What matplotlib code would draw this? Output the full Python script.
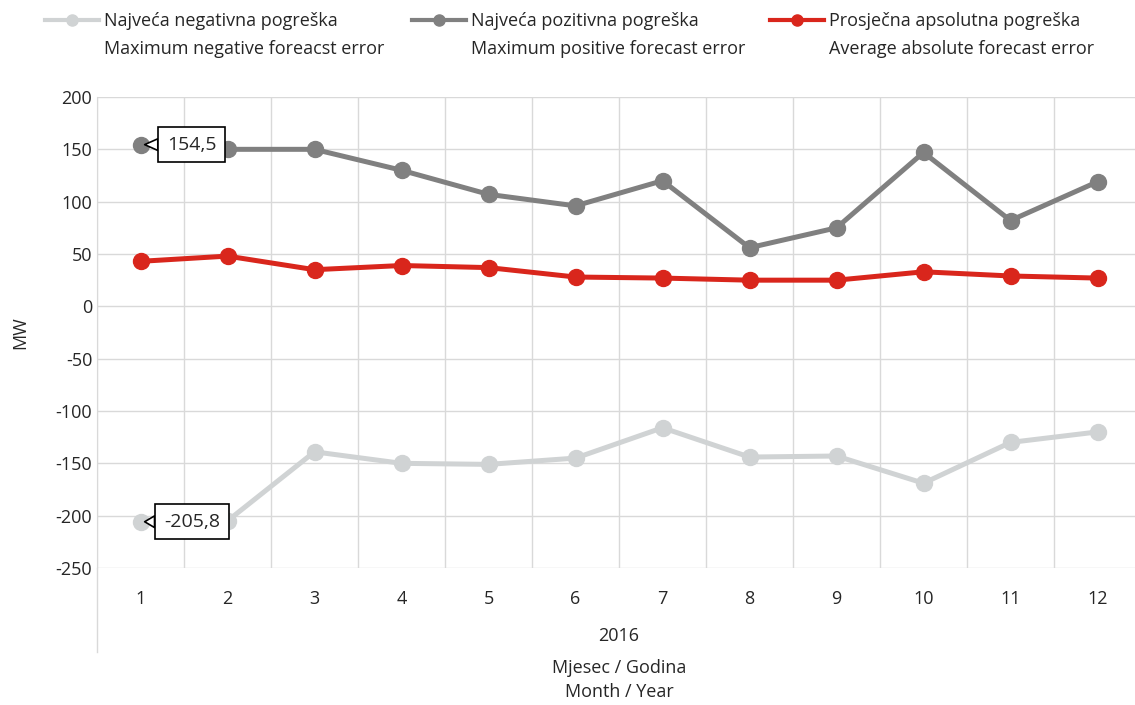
import matplotlib
matplotlib.use("Agg")
import matplotlib.pyplot as plt
from matplotlib.lines import Line2D

plt.rcParams['font.family'] = ['Open Sans', 'DejaVu Sans']
plt.rcParams['axes.unicode_minus'] = False

months = [1, 2, 3, 4, 5, 6, 7, 8, 9, 10, 11, 12]
max_neg = [-205.8, -205, -139, -150, -151, -145, -116, -144, -143, -169, -130, -120]
max_pos = [154.5, 150, 150, 130, 107, 96, 120, 56, 75, 147, 82, 119]
avg_abs = [43, 48, 35, 39, 37, 28, 27, 25, 25, 33, 29, 27]

labels_hr = ['Najveća negativna pogreška', 'Najveća pozitivna pogreška', 'Prosječna apsolutna pogreška']
labels_en = ['Maximum negative foreacst error', 'Maximum positive forecast error', 'Average absolute forecast error']
colors = ['#d0d3d4', '#808080', '#d9261c']

W, H = 1135, 705
fig = plt.figure(figsize=(W / 100, H / 100), dpi=100)
ax = fig.add_axes([97 / W, 1 - 568 / H, 1044 / W, 471 / H])

x = list(range(len(months)))
series = [max_neg, max_pos, avg_abs]
for s, c in zip(series, colors):
    ax.plot(x, s, color=c, lw=3.6, marker='o', ms=11.5, zorder=3)

ax.set_xlim(-0.5, 11.5)
ax.set_ylim(-250, 200)
ax.set_yticks(range(-250, 201, 50))
ax.set_xticks(x)
ax.set_xticklabels([str(m) for m in months])
ax.set_xticks([i + 0.5 for i in range(-1, 12)], minor=True)
ax.grid(True, which='minor', axis='x', color='#d9d9d9', lw=1)
ax.grid(True, which='major', axis='y', color='#d9d9d9', lw=1)
ax.tick_params(axis='both', which='both', length=0, labelsize=13, colors='#262626')
ax.tick_params(axis='x', pad=16)
for sp in ['top', 'right', 'bottom']:
    ax.spines[sp].set_visible(False)
ax.spines['left'].set_color('#d9d9d9')
ax.spines['left'].set_bounds(-250, 200)
ax.set_axisbelow(True)
ax.set_ylabel('MW', fontsize=13, color='#262626', labelpad=19)

# left axis line continues under category labels
fig.add_artist(Line2D([97 / W, 97 / W], [1 - 652 / H, 1 - 568 / H], color='#d9d9d9', lw=1))

xc = 0.5 * (97 + 1141) / W
fig.text(xc, 1 - 636 / H, '2016', ha='center', va='center', fontsize=13, color='#262626')
fig.text(xc, 1 - 668 / H, 'Mjesec / Godina', ha='center', va='center', fontsize=13, color='#262626')
fig.text(xc, 1 - 692 / H, 'Month / Year', ha='center', va='center', fontsize=13, color='#262626')

# data callouts
for idx, s in [(0, max_pos), (0, max_neg)]:
    v = s[idx]
    ax.annotate(f'{v:.1f}'.replace('.', ','), xy=(idx, v), xytext=(37, 0), textcoords='offset points',
                ha='center', va='center', fontsize=14, color='#262626',
                bbox=dict(boxstyle='square,pad=0.45', fc='white', ec='black', lw=1.2),
                arrowprops=dict(arrowstyle='wedge,tail_width=0.6,shrink_factor=0.5', fc='white', ec='black',
                                lw=1.2, shrinkA=0, shrinkB=3), zorder=5)

# legend: one per series, second (English) line added beneath
leg_x = [45, 412, 770]
fig.canvas.draw()
r = fig.canvas.get_renderer()
for c, lab_hr, lab_en, lx in zip(colors, labels_hr, labels_en, leg_x):
    h = Line2D([], [], color=c, lw=3, marker='o', ms=8)
    leg = fig.legend([h], [lab_hr], loc='upper left', bbox_to_anchor=(lx / W, 1 - 12 / H), frameon=False,
                     fontsize=13, handlelength=3.0, handletextpad=0.28, borderpad=0, borderaxespad=0)
    t = leg.get_texts()[0]
    t.set_color('#262626')
    fig.canvas.draw()
    bb = t.get_window_extent(r)
    fig.text(bb.x0 / W, (bb.y0 - 19) / H, lab_en, ha='left', va='center', fontsize=13, color='#262626')

fig.savefig('out.png', dpi=100)
